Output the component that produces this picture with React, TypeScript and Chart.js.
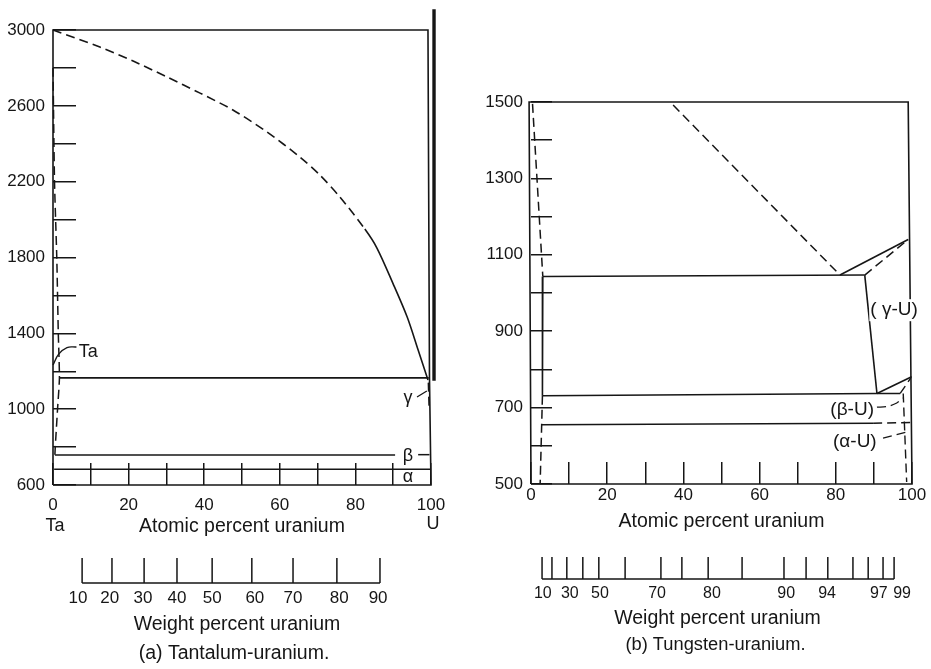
import React, { useEffect, useRef } from 'react';
import { Chart, registerables } from 'chart.js';

Chart.register(...registerables);

type Pt = [number, number];

// ---------------- (a) Tantalum-uranium (x: atomic % U, y: temperature) ----------------
const taTempTicks = [600, 800, 1000, 1200, 1400, 1600, 1800, 2000, 2200, 2400, 2600, 2800, 3000];
const taTempLabels = [600, 1000, 1400, 1800, 2200, 2600, 3000];
const atomicTicks = [0, 10, 20, 30, 40, 50, 60, 70, 80, 90, 100];
const atomicLabels = [0, 20, 40, 60, 80, 100];

// liquidus: dashed up to 82.5 at.% U, solid beyond
const taLiquidus: Pt[] = [[0, 3000], [12.4, 2910], [21.2, 2836], [30.2, 2752], [38.9, 2667], [47.6, 2578], [56.6, 2462], [65.3, 2330], [70.6, 2235], [75.9, 2119], [82.5, 1950], [85.7, 1850], [89.9, 1665], [93.7, 1486], [96.6, 1312], [99.2, 1154]];
const taLiquidusDashedUntil = 82.5;
const taSolvus: Pt[] = [[0, 2800], [0.4, 2200], [1.0, 1800], [1.4, 1400], [1.7, 1165], [1.2, 1000], [0.6, 800], [0.5, 760]];
const taMonotectic: Pt[] = [[1.6, 1165], [99.4, 1165]];
const taBetaLine: Pt[] = [[0.5, 758], [90.5, 758]];
const taBetaLeader: Pt[] = [[96.6, 760], [99.6, 760]];
const taAlphaLine: Pt[] = [[0.3, 683], [100, 683]];
const taGammaSolvus: Pt[] = [[99.3, 1140], [99.5, 1010]];
const taGammaLeader: Pt[] = [[96.3, 1064], [98.9, 1096]];
const taTaLeader: Pt[] = [[0, 1233], [1.5, 1290], [3.7, 1325], [6.2, 1328]];
const taUraniumLine: Pt[] = [[100.8, 1150], [100.8, 3110]];
const taFrame: Pt[] = [[0, 600], [0, 3000], [99.2, 3000], [99.6, 1165], [100, 600], [0, 600]];

const taWeightPos = [7.7, 15.6, 24.1, 32.8, 42.1, 52.6, 63.5, 75.1, 86.5];
const taWeightLabels = ['10', '20', '30', '40', '50', '60', '70', '80', '90'];
const taWeightLabelPos = [6.6, 15.0, 23.8, 32.8, 42.1, 53.4, 63.5, 75.7, 86.0];

const taPhaseLabels = [
  { text: 'Ta', x: 9.3, y: 1301 },
  { text: 'γ', x: 93.9, y: 1059 },
  { text: 'β', x: 93.9, y: 753 },
  { text: 'α', x: 93.9, y: 642 },
];

// ---------------- (b) Tungsten-uranium ----------------
const wTempTicks = [500, 600, 700, 800, 900, 1000, 1100, 1200, 1300, 1400, 1500];
const wTempLabels = [500, 700, 900, 1100, 1300, 1500];

const wFrame: Pt[] = [[0, 500], [-0.5, 1500], [99, 1500], [100, 500], [0, 500]];
const wSolvusDashed: Pt[] = [[0.4, 1495], [3.1, 1043]];
const wBoxLeft: Pt[] = [[3.1, 1043], [3.0, 731]];
const wSolvusLow: Pt[] = [[3.0, 731], [2.4, 500]];
const wBoxTop: Pt[] = [[3.1, 1043], [87.6, 1047]];
const wBoxRight: Pt[] = [[87.6, 1047], [90.8, 737]];
const wBoxBottom: Pt[] = [[3.0, 731], [90.8, 737], [96.9, 737]];
const wLiquidus: Pt[] = [[37.3, 1492], [81.1, 1047]];
const wGammaUpper: Pt[] = [[81.1, 1047], [99, 1140]];
const wGammaUpperDashed: Pt[] = [[87.6, 1047], [99, 1140]];
const wBetaSolid: Pt[] = [[90.8, 737], [99.9, 781]];
const wBetaDashed: Pt[] = [[96.9, 737], [99.7, 778]];
const wBetaSolvus: Pt[] = [[97.7, 737], [98.6, 505]];
const wEutectoidSolid: Pt[] = [[2.8, 655], [89.8, 659]];
const wEutectoidDashed: Pt[] = [[89.8, 659], [100, 661]];
const wBetaLeader: Pt[] = [[90.8, 701], [93.5, 703], [96, 712], [97.6, 725]];
const wAlphaLeader: Pt[] = [[92.4, 620], [98.7, 636]];

const wWeightPos = [2.9, 5.5, 9.4, 13.6, 17.8, 24.7, 34.1, 39.6, 46.5, 55.4, 66.4, 72.2, 77.9, 84.5, 88.5, 92.4, 95.3];
const wWeightLabels = ['10', '30', '50', '70', '80', '90', '94', '97', '99'];
const wWeightLabelPos = [3.1, 10.2, 18.1, 33.1, 47.5, 67.0, 77.7, 91.3, 97.4];

const wPhaseLabels = [
  { text: '( γ-U)', x: 95.3, y: 955, box: true },
  { text: '(β-U)', x: 84.3, y: 694, box: false },
  { text: '(α-U)', x: 85.0, y: 610, box: false },
];

// ---------------- styling ----------------
const INK = '#161616';
const NUM_FONT = "'Liberation Sans', Arial, sans-serif";
const TXT_FONT = "'Liberation Sans', Arial, sans-serif";
const NUM_SIZE = 17;

function seg(pts: Pt[], dashed: boolean, width = 1.6, tension = 0) {
  return {
    data: pts.map(([x, y]) => ({ x, y })),
    showLine: true,
    borderColor: INK,
    borderWidth: width,
    borderDash: dashed ? [9, 5] : [],
    pointRadius: 0,
    pointHoverRadius: 0,
    fill: false,
    tension,
    clip: false,
  };
}

interface PanelSpec {
  datasets: any[];
  yTicks: number[];
  yLabels: number[];
  yMin: number;
  yMax: number;
  yWidth: number;
  yTickLen: number;
  xHeight: number;
  xTickLen: number;
  xLabelPad: number;
  padding: { left: number; right: number; top: number; bottom: number };
  extras: (chart: any) => void;
}

function makeConfig(p: PanelSpec): any {
  return {
    type: 'scatter',
    data: { datasets: p.datasets },
    options: {
      animation: false,
      responsive: false,
      events: [],
      layout: { padding: p.padding },
      plugins: { legend: { display: false }, tooltip: { enabled: false } },
      scales: {
        x: {
          type: 'linear',
          position: 'bottom',
          min: 0,
          max: 100,
          afterFit: (s: any) => { s.height = p.xHeight; s.paddingLeft = 0; s.paddingRight = 0; },
          afterBuildTicks: (s: any) => { s.ticks = atomicTicks.map((v) => ({ value: v })); },
          border: { display: false },
          grid: { drawOnChartArea: false, drawTicks: true, tickLength: -p.xTickLen, color: INK, tickColor: INK, lineWidth: 1.5, tickWidth: 1.5 },
          ticks: {
            autoSkip: false,
            maxRotation: 0,
            padding: p.xLabelPad,
            color: INK,
            font: { family: NUM_FONT, size: NUM_SIZE, lineHeight: 1.2 },
            callback: (v: number) => (atomicLabels.includes(v) ? String(v) : ''),
          },
          title: {
            display: true,
            text: 'Atomic percent uranium',
            color: INK,
            font: { family: TXT_FONT, size: 19.5, lineHeight: 1.2 },
            padding: { top: 0, bottom: 0 },
          },
        },
        y: {
          type: 'linear',
          position: 'left',
          min: p.yMin,
          max: p.yMax,
          afterFit: (s: any) => { s.width = p.yWidth; s.paddingTop = 0; s.paddingBottom = 0; },
          afterBuildTicks: (s: any) => { s.ticks = p.yTicks.map((v) => ({ value: v })); },
          border: { display: false },
          grid: { drawOnChartArea: false, drawTicks: true, tickLength: -p.yTickLen, color: INK, tickColor: INK, lineWidth: 1.5, tickWidth: 1.5 },
          ticks: {
            autoSkip: false,
            padding: p.yTickLen + 8,
            color: INK,
            font: { family: NUM_FONT, size: NUM_SIZE, lineHeight: 1.2 },
            callback: (v: number) => (p.yLabels.includes(v) ? String(v) : ''),
          },
        },
      },
    },
    plugins: [{ id: 'extras', afterDraw: (chart: any) => p.extras(chart) }],
  };
}

function text(ctx: CanvasRenderingContext2D, s: string, x: number, y: number, size: number, family = TXT_FONT) {
  ctx.font = `${size}px ${family}`;
  ctx.fillText(s, x, y);
}

function weightScale(chart: any, pos: number[], labels: string[], labelPos: number[], baseOff: number, tickLen: number, labelOff: number, labelSize: number) {
  const { ctx, chartArea, scales } = chart;
  const xs = scales.x;
  const base = chartArea.bottom + baseOff;
  ctx.save();
  ctx.strokeStyle = INK;
  ctx.lineWidth = 1.5;
  ctx.beginPath();
  ctx.moveTo(xs.getPixelForValue(pos[0]), base);
  ctx.lineTo(xs.getPixelForValue(pos[pos.length - 1]), base);
  pos.forEach((v) => {
    const px = xs.getPixelForValue(v);
    ctx.moveTo(px, base);
    ctx.lineTo(px, base - tickLen);
  });
  ctx.stroke();
  ctx.fillStyle = INK;
  ctx.textAlign = 'center';
  ctx.textBaseline = 'middle';
  labels.forEach((l, i) => {
    text(ctx, l, xs.getPixelForValue(labelPos[i]), chartArea.bottom + labelOff, labelSize, NUM_FONT);
  });
  ctx.restore();
}

const taLiquidusDataset = {
  ...seg(taLiquidus, false, 1.6, 0.3),
  segment: {
    borderDash: (c: any) => (c.p1.parsed.x <= taLiquidusDashedUntil ? [9, 5] : []),
  },
};

const taConfig = () =>
  makeConfig({
    datasets: [
      seg(taFrame, false, 1.6),
      taLiquidusDataset,
      seg(taSolvus, true, 1.5, 0.2),
      seg(taMonotectic, false, 1.6),
      seg(taBetaLine, false, 1.6),
      seg(taBetaLeader, false, 1.5),
      seg(taAlphaLine, false, 1.6),
      seg(taGammaSolvus, true, 1.5),
      seg(taGammaLeader, false, 1.3, 0.3),
      seg(taTaLeader, false, 1.3, 0.4),
      seg(taUraniumLine, false, 3.4),
    ],
    yTicks: taTempTicks,
    yLabels: taTempLabels,
    yMin: 600,
    yMax: 3000,
    yWidth: 53,
    yTickLen: 23,
    xHeight: 53,
    xTickLen: 22,
    xLabelPad: 32,
    padding: { left: 0, right: 39, top: 30, bottom: 131 },
    extras: (chart: any) => {
      const { ctx, chartArea, scales } = chart;
      const xs = scales.x;
      const ys = scales.y;
      ctx.save();
      ctx.fillStyle = INK;
      ctx.textAlign = 'center';
      ctx.textBaseline = 'middle';
      taPhaseLabels.forEach((l) => text(ctx, l.text, xs.getPixelForValue(l.x), ys.getPixelForValue(l.y), 18));
      text(ctx, 'Ta', xs.getPixelForValue(0) + 2, chartArea.bottom + 41, 18);
      text(ctx, 'U', xs.getPixelForValue(100) + 2, chartArea.bottom + 39, 18);
      const cx = (chartArea.left + chartArea.right) / 2 - 5;
      text(ctx, 'Weight percent uranium', cx, chartArea.bottom + 140, 19.5);
      text(ctx, '(a) Tantalum-uranium.', cx - 3, chartArea.bottom + 169, 19.5);
      ctx.restore();
      weightScale(chart, taWeightPos, taWeightLabels, taWeightLabelPos, 98, 25, 113, NUM_SIZE);
    },
  });

const wConfig = () =>
  makeConfig({
    datasets: [
      seg(wFrame, false, 1.6),
      seg(wSolvusDashed, true, 1.5),
      seg(wBoxLeft, false, 1.6),
      seg(wSolvusLow, true, 1.5),
      seg(wBoxTop, false, 1.6),
      seg(wBoxRight, false, 1.6),
      seg(wBoxBottom, false, 1.6),
      seg(wLiquidus, true, 1.5),
      seg(wGammaUpper, false, 1.6),
      seg(wGammaUpperDashed, true, 1.5),
      seg(wBetaSolid, false, 1.6),
      seg(wBetaDashed, true, 1.4),
      seg(wBetaSolvus, true, 1.4),
      seg(wEutectoidSolid, false, 1.6),
      seg(wEutectoidDashed, true, 1.5),
      seg(wBetaLeader, true, 1.3, 0.3),
      seg(wAlphaLeader, true, 1.3),
    ],
    yTicks: wTempTicks,
    yLabels: wTempLabels,
    yMin: 500,
    yMax: 1500,
    yWidth: 61,
    yTickLen: 21,
    xHeight: 49,
    xTickLen: 22,
    xLabelPad: 23,
    padding: { left: 0, right: 19, top: 102, bottom: 136 },
    extras: (chart: any) => {
      const { ctx, chartArea, scales } = chart;
      const xs = scales.x;
      const ys = scales.y;
      ctx.save();
      ctx.fillStyle = INK;
      ctx.textAlign = 'center';
      ctx.textBaseline = 'middle';
      wPhaseLabels.forEach((l) => {
        const px = xs.getPixelForValue(l.x);
        const py = ys.getPixelForValue(l.y);
        ctx.font = `19px ${TXT_FONT}`;
        if (l.box) {
          const w = ctx.measureText(l.text).width;
          ctx.fillStyle = '#ffffff';
          ctx.fillRect(px - w / 2 - 1, py - 11, w + 2, 22);
          ctx.fillStyle = INK;
        }
        ctx.fillText(l.text, px, py);
      });
      const cx = (chartArea.left + chartArea.right) / 2 - 4;
      text(ctx, 'Weight percent uranium', cx, chartArea.bottom + 135, 19.5);
      text(ctx, '(b) Tungsten-uranium.', cx - 2, chartArea.bottom + 161, 18.3);
      ctx.restore();
      weightScale(chart, wWeightPos, wWeightLabels, wWeightLabelPos, 95, 22, 110, 16);
    },
  });

function PhaseChart({ left, width, config }: { left: number; width: number; config: () => any }) {
  const ref = useRef<HTMLCanvasElement>(null);
  useEffect(() => {
    const chart = new Chart(ref.current as HTMLCanvasElement, config());
    return () => chart.destroy();
  }, [config]);
  return (
    <canvas
      ref={ref}
      width={width}
      height={669}
      style={{ position: 'absolute', left, top: 0, width, height: 669 }}
    />
  );
}

export default function App() {
  return (
    <div style={{ position: 'absolute', left: 0, top: 0, width: 931, height: 669, background: '#ffffff', overflow: 'hidden' }}>
      <PhaseChart left={0} width={470} config={taConfig} />
      <PhaseChart left={470} width={461} config={wConfig} />
    </div>
  );
}
